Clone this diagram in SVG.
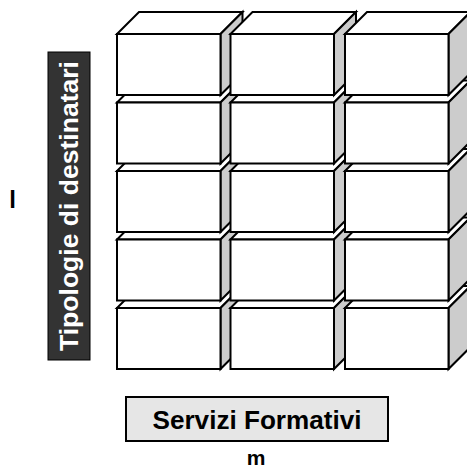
<svg xmlns="http://www.w3.org/2000/svg" width="467" height="472" viewBox="0 0 467 472">
<style>
.f{fill:#ffffff;stroke:#000;stroke-width:2;stroke-linejoin:miter}
.s{fill:#cccccc;stroke:#000;stroke-width:2;stroke-linejoin:miter}
.t{font-family:"Liberation Sans",Arial,sans-serif;font-weight:bold}
</style>
<defs>
<g id="cube">
<polygon class="f" points="0,0 22,-22 125.5,-22 103.5,0"/>
<polygon class="s" points="103.5,0 125.5,-22 125.5,39 103.5,61"/>
<rect class="f" x="0" y="0" width="103.5" height="61"/>
</g>
</defs>
<g id="cubes">
<use href="#cube" x="117" y="308"/><use href="#cube" x="230.5" y="308"/><use href="#cube" x="345" y="308"/>
<use href="#cube" x="117" y="239.5"/><use href="#cube" x="230.5" y="239.5"/><use href="#cube" x="345" y="239.5"/>
<use href="#cube" x="117" y="171"/><use href="#cube" x="230.5" y="171"/><use href="#cube" x="345" y="171"/>
<use href="#cube" x="117" y="102.5"/><use href="#cube" x="230.5" y="102.5"/><use href="#cube" x="345" y="102.5"/>
<use href="#cube" x="117" y="34"/><use href="#cube" x="230.5" y="34"/><use href="#cube" x="345" y="34"/>
</g>
<g id="axis-y">
<rect x="48" y="52" width="42" height="308" fill="#333333" stroke="#000" stroke-width="1"/>
<text class="t" transform="translate(69,206) rotate(-90)" x="0" y="9" font-size="25" fill="#ffffff" text-anchor="middle" textLength="290" lengthAdjust="spacingAndGlyphs">Tipologie di destinatari</text>
</g>
<g id="label-l">
<text class="t" x="12.5" y="208" font-size="24" fill="#000" text-anchor="middle">l</text>
</g>
<g id="axis-x">
<rect x="126" y="397" width="262" height="44" fill="#e6e6e6" stroke="#000" stroke-width="2"/>
<text class="t" x="257" y="429" font-size="25" fill="#000" text-anchor="middle" textLength="209" lengthAdjust="spacingAndGlyphs">Servizi Formativi</text>
</g>
<g id="label-m">
<text class="t" x="256" y="465" font-size="21" fill="#000" text-anchor="middle">m</text>
</g>
</svg>
